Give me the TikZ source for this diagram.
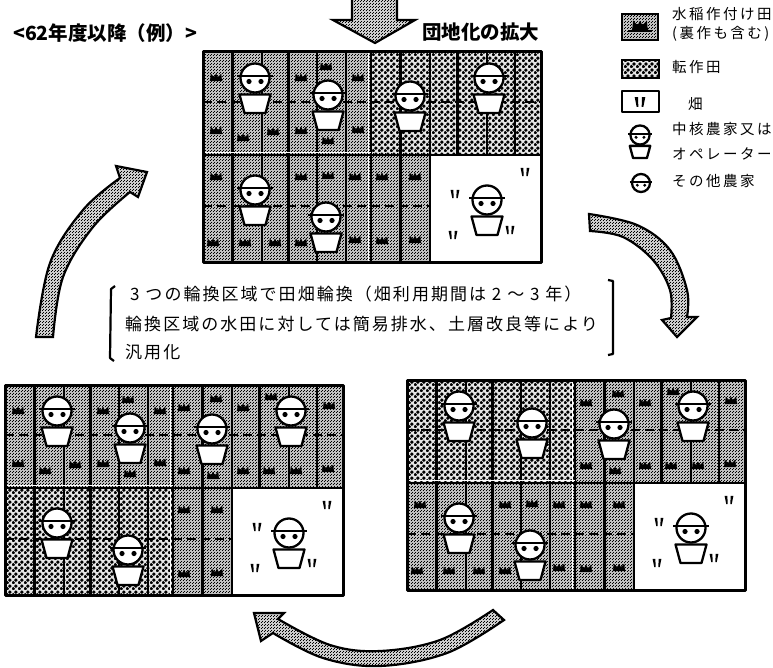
\documentclass[tikz,border=0pt]{standalone}
\usepackage{fontspec}
\usetikzlibrary{patterns}
\newfontfamily\jp{Noto Sans CJK JP}
\pgfdeclarepatternformonly{ricetone}{\pgfqpoint{0pt}{0pt}}{\pgfqpoint{3pt}{3pt}}{\pgfqpoint{3pt}{3pt}}{%
  \pgfpathrectangle{\pgfqpoint{0pt}{0pt}}{\pgfqpoint{1.1pt}{1.1pt}}%
  \pgfpathrectangle{\pgfqpoint{1.6pt}{1.6pt}}{\pgfqpoint{.8pt}{.8pt}}%
  \pgfusepath{fill}}
\pgfdeclarepatternformonly{convtone}{\pgfqpoint{0pt}{0pt}}{\pgfqpoint{6pt}{6pt}}{\pgfqpoint{6pt}{6pt}}{%
  \pgfpathcircle{\pgfqpoint{1.5pt}{1.5pt}}{2.1pt}%
  \pgfpathcircle{\pgfqpoint{4.5pt}{4.5pt}}{2.1pt}%
  \pgfusepath{fill}}
\tikzset{
  rice/.style={preaction={fill=black!25},pattern=ricetone,pattern color=black},
  conv/.style={preaction={fill=black!10},pattern=convtone,pattern color=black},
  ink/.style={line width=#1,draw=black,line join=round},
  arrowshape/.style={draw=black,line width=2.2pt,line join=miter,preaction={fill=black!20},pattern=ricetone,pattern color=black},
  txt/.style={anchor=base west,inner sep=0pt,font=\jp},
  bodytext/.style={txt,font=\fontsize{17}{17}\jp\addfontfeature{LetterSpace=12}},
  legendtext/.style={txt,font=\fontsize{14.5}{15}\jp\addfontfeature{LetterSpace=17}},
  headtext/.style={txt,font=\fontsize{19.5}{20}\jp\bfseries},
}
\newcommand{\sprout}[3]{%
  \fill[black,shift={(#1,#2)},scale=#3] (-5.5,3.5)--(5.5,3.5)--(5,1.5)--(4.6,-3)--(2.4,-.6)--(1.1,-.6)--(.4,-2.4)--(-.4,-2.4)--(-1.1,-.6)--(-2.4,-.6)--(-4.6,-3)--(-5,1.5)--cycle;}
\newcommand{\bean}[3]{%
  \begin{scope}[shift={(#1,#2)},scale=#3]
  \fill[black] (-3.8,-3.5)--(-1.4,-3.5)--(-1.2,3.5)--(-2.4,3.5)--cycle;
  \fill[black] (3.8,-3.5)--(1.4,-3.5)--(1.2,3.5)--(2.4,3.5)--cycle;
  \end{scope}}
\newcommand{\farmerhead}[3]{%
  \begin{scope}[shift={(#1,#2)},scale=#3]
  \draw[ink=2.3pt,fill=white] (0,0) circle (14.5);
  \draw[ink=2.3pt] (-18,-2)--(18,-2);
  \fill[black] (-6,3.5) circle (2.6) (6,3.5) circle (2.6);
  \end{scope}}
\newcommand{\farmer}[3]{%
  \begin{scope}[shift={(#1,#2)},scale=#3]
  \draw[ink=2.3pt,fill=white] (-15.5,16.5)--(15.5,16.5)--(10.5,35)--(-10.5,35)--cycle;
  \end{scope}
  \farmerhead{#1}{#2}{#3}}
\newcommand{\ifrice}[2]{\def\tmpa{#1}\def\tmpb{rice}\ifx\tmpa\tmpb #2\fi}
\newcommand{\fieldgrid}[5]{%
  \begin{scope}[shift={(#1,#2)}]
  \path[fill=white] (0,0) rectangle (338,210);
  \path[#3] (0,0) rectangle (168,102);
  \path[#4] (168,0) rectangle (338,102);
  \path[#5] (0,102) rectangle (168,210);
  \path[rice] (168,102) rectangle (227,210);
  \draw[ink=1.8pt,dash pattern=on 9pt off 5pt] (0,50)--(338,50) (0,154)--(227,154);
  \draw[ink=3pt] (29,0)--(29,210) (85,0)--(85,210) (197,0)--(197,210) (254,0)--(254,102);
  \draw[ink=2.6pt] (59,0)--(59,210) (114,0)--(114,210) (143,0)--(143,210) (227,0)--(227,210) (284,0)--(284,102) (312,0)--(312,102);
  \draw[ink=2.6pt] (168,0)--(168,210);
  \draw[white,line width=1pt] (165.5,0)--(165.5,210);
  \draw[ink=2.6pt] (0,103)--(338,103);
  \draw[white,line width=1pt] (0,100.5)--(168,100.5);
  \draw[ink=3pt] (0,0) rectangle (338,210);
  \path[fill=white] (228,105) rectangle (336.5,208.5);
  \ifrice{#3}{\foreach \a/\b in {13/25,98/25,123/14,155/25,13/78,40/85,70/79,98/78,125/88,155/77}{\sprout{\a}{\b}{1.15}}}
  \ifrice{#4}{\foreach \a/\b in {179/22,211/13,238/22,266/11,324/20,179/85,208/90,238/85,264/85,291/85,323/83}{\sprout{\a}{\b}{1.15}}}
  \ifrice{#5}{\foreach \a/\b in {13/124,98/124,125/123,152/124,10/190,42/190,72/190,98/190,152/187}{\sprout{\a}{\b}{1.15}}}
  \foreach \a/\b in {179/124,212/124,179/188,212/187}{\sprout{\a}{\b}{1.15}}
  \foreach \a/\b in {322/120,252/142,250/183,307/178}{\bean{\a}{\b}{1.15}}
  \foreach \a/\b in {52/26,125/43,207/44,286/26,52/138,123/165,284/148}{\farmer{\a}{\b}{1}}
  \end{scope}}
\begin{document}
\begin{tikzpicture}[x=1pt,y=-1pt]
\useasboundingbox (0,0) rectangle (773,668);
\fill[white] (0,0) rectangle (773,668);
% top arrow
\path[arrowshape] (352,-3)--(352,20)--(333,20)--(375,43)--(415,20)--(397,20)--(397,-3)--cycle;
\node[headtext] (title) at (13,41) {<62年度以降（例）>};
\node[headtext] (merge) at (422,40) {団地化の拡大};
% field grids
\fieldgrid{203}{52}{rice}{conv}{rice}
\fieldgrid{5}{385}{rice}{rice}{conv}
\fieldgrid{407}{380}{conv}{rice}{rice}
% curved arrows
\path[arrowshape] plot[smooth,tension=.6] coordinates {(36,337)(50,263)(83,210)(120,178)}
  --(116,166)--(147,172)--(138,197)--(130,192)
  -- plot[smooth,tension=.6] coordinates {(130,192)(93,227)(63,277)(53,337)} --cycle;
\path[arrowshape] plot[smooth,tension=.6] coordinates {(589,214)(637,225)(670,250)(687,290)(687,317)}
  --(697,317)--(677,337)--(662,320)--(671,318)
  -- plot[smooth,tension=.6] coordinates {(671,318)(670,290)(653,260)(623,237)(590,231)} --cycle;
\path[arrowshape] plot[smooth,tension=.6] coordinates {(504,620)(447,653)(380,666)(323,658)(273,633)}
  --(261,641)--(254,613)--(284,613)--(278,619)
  -- plot[smooth,tension=.6] coordinates {(278,619)(330,645)(380,651)(440,640)(493,610)} --cycle;
% brackets
\draw[ink=2.2pt] (115,286)--(111,289)--(110,358)--(114,361);
\draw[ink=2.2pt] (608,280)--(613,281)--(613,354)--(608,355);
% centre text
\node[bodytext] (line1) at (130,300) {3 つの輪換区域で田畑輪換（畑利用期間は 2 ～ 3 年）};
\node[bodytext] (line2) at (125,330) {輪換区域の水田に対しては簡易排水、土層改良等により};
\node[bodytext] (line3) at (125,358) {汎用化};
% legend
\path[rice,draw=black,line width=2.8pt] (622,14) rectangle (658,40);
\sprout{640}{25}{1.5}
\draw[ink=2.2pt] (628,31)--(652,31);
\path[conv,draw=black,line width=2.8pt] (622,60) rectangle (659,78);
\draw[ink=2.4pt,fill=white] (622,91) rectangle (659,112);
\bean{640}{102}{1.4}
\farmer{640}{135}{.66}
\farmerhead{641}{183}{.62}
\node[legendtext] (lg1) at (672,20) {水稲作付け田};
\node[legendtext] (lg2) at (672,39) {(裏作も含む)};
\node[legendtext] (lg3) at (672,73) {転作田};
\node[legendtext] (lg4) at (688,110) {畑};
\node[legendtext] (lg5) at (672,135) {中核農家又は};
\node[legendtext] (lg6) at (672,160) {オペレーター};
\node[legendtext] (lg7) at (672,187) {その他農家};
\end{tikzpicture}
\end{document}
